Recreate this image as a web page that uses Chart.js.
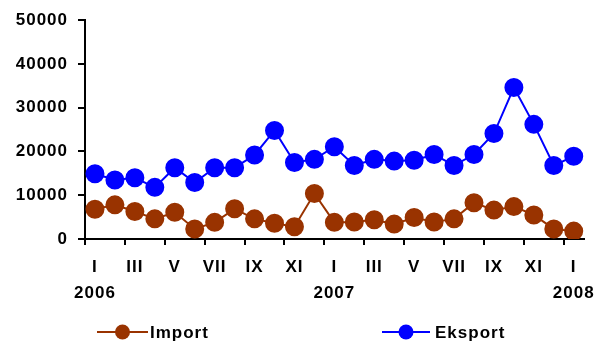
<!DOCTYPE html>
<html>
<head>
<meta charset="utf-8">
<script src="https://cdn.jsdelivr.net/npm/chart.js@4/dist/chart.umd.min.js"></script>
<style>
  html, body { margin: 0; padding: 0; background: #fff; }
  #wrap { width: 603px; height: 345px; position: relative; }
</style>
</head>
<body>
<div id="wrap"><canvas id="c" width="603" height="345"></canvas></div>
<script>
const months = ['I','II','III','IV','V','VI','VII','VIII','IX','X','XI','XII',
                'I','II','III','IV','V','VI','VII','VIII','IX','X','XI','XII','I'];
const years = ['2006','','','','','','','','','','','',
               '2007','','','','','','','','','','','','2008'];
const importValues = [6800, 7800, 6300, 4600, 6100, 2300, 3800, 6900, 4600, 3600, 2800,
                      10400, 3800, 3900, 4400, 3400, 4900, 3900, 4600, 8300,
                      6600, 7400, 5500, 2300, 1800];
const eksportValues = [14900, 13500, 14000, 11800, 16300, 12900, 16300, 16300, 19200, 24800, 17500,
                       18200, 21100, 16800, 18200, 17800, 18000, 19300, 16800, 19300,
                       24100, 34600, 26200, 16800, 18900];
const yTicks = [0, 10000, 20000, 30000, 40000, 50000];

const FONT = 'Liberation Sans, Arial, sans-serif';
const BROWN = '#993300';
const BLUE = '#0000FF';

const spacingPlugin = {
  id: 'spacing',
  beforeDraw(chart) { try { chart.ctx.letterSpacing = '1px'; } catch (e) {} }
};

const legendPlugin = {
  id: 'customLegend',
  afterDraw(chart) {
    const ctx = chart.ctx;
    const items = [
      { ds: 0, x1: 97, x2: 148, tx: 150 },
      { ds: 1, x1: 382, x2: 430, tx: 435 }
    ];
    const y = 332;
    ctx.save();
    items.forEach(it => {
      const d = chart.data.datasets[it.ds];
      ctx.strokeStyle = d.borderColor;
      ctx.lineWidth = 2;
      ctx.beginPath();
      ctx.moveTo(it.x1, y);
      ctx.lineTo(it.x2, y);
      ctx.stroke();
      ctx.fillStyle = d.backgroundColor;
      ctx.beginPath();
      ctx.arc((it.x1 + it.x2) / 2, y, 7.5, 0, Math.PI * 2);
      ctx.fill();
      ctx.fillStyle = '#000';
      ctx.font = 'bold 17px ' + FONT;
      ctx.textBaseline = 'middle';
      ctx.textAlign = 'left';
      ctx.fillText(d.label, it.tx, y + 1);
    });
    ctx.restore();
  }
};

new Chart(document.getElementById('c'), {
  type: 'line',
  data: {
    labels: months.map((m, i) => i),
    datasets: [
      { label: 'Import', data: importValues, borderColor: BROWN, backgroundColor: BROWN,
        pointBackgroundColor: BROWN, pointBorderColor: BROWN, borderWidth: 2,
        pointRadius: 8.5, pointHoverRadius: 8.5, tension: 0 },
      { label: 'Eksport', data: eksportValues, borderColor: BLUE, backgroundColor: BLUE,
        pointBackgroundColor: BLUE, pointBorderColor: BLUE, borderWidth: 2,
        pointRadius: 8.5, pointHoverRadius: 8.5, tension: 0 }
    ]
  },
  options: {
    responsive: false,
    animation: false,
    layout: { padding: { left: 0, right: 18, top: 16, bottom: 0 } },
    plugins: { legend: { display: false }, tooltip: { enabled: false } },
    scales: {
      x: {
        type: 'category',
        offset: true,
        border: { display: true, color: '#000', width: 2 },
        grid: {
          offset: true,
          drawOnChartArea: false,
          drawTicks: true,
          tickLength: 6,
          lineWidth: 2,
          color: (ctx) => (ctx.index % 2 === 0 ? '#000' : 'rgba(0,0,0,0)')
        },
        ticks: {
          autoSkip: false,
          maxRotation: 0,
          minRotation: 0,
          padding: 10,
          color: '#000',
          font: { family: FONT, size: 17, weight: 'bold', lineHeight: 1.5 },
          callback: function (val, i) {
            if (i % 2 !== 0) return '';
            return [months[i], years[i]];
          }
        },
        afterFit: (s) => { s.height = 345 - 239; }
      },
      y: {
        min: 0,
        max: 50000,
        border: { display: true, color: '#000', width: 2 },
        grid: { drawOnChartArea: false, drawTicks: true, tickLength: 7, lineWidth: 2, color: '#000' },
        afterBuildTicks: (s) => { s.ticks = yTicks.map(v => ({ value: v })); },
        ticks: {
          padding: 10,
          color: '#000',
          font: { family: FONT, size: 17, weight: 'bold' },
          callback: (v) => String(v)
        },
        afterFit: (s) => { s.width = 85; }
      }
    }
  },
  plugins: [spacingPlugin, legendPlugin]
});
</script>
</body>
</html>
